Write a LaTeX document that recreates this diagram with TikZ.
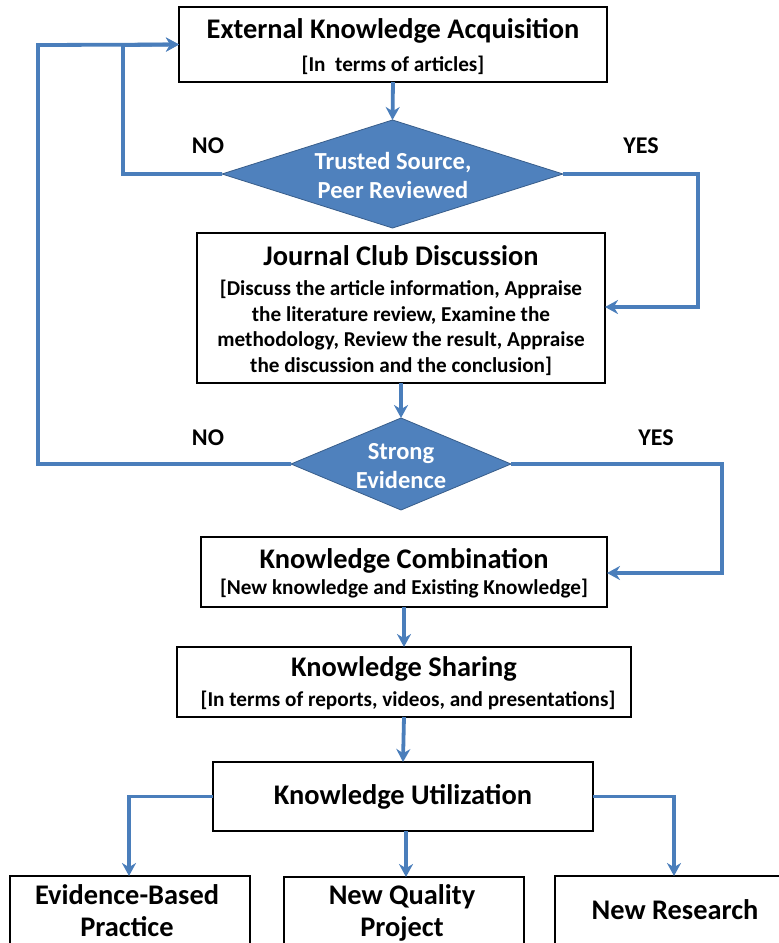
\documentclass[tikz,border=0pt]{standalone}
\usepackage{fontspec}
\setmainfont{Carlito}
\usetikzlibrary{shapes.geometric,arrows.meta}
\definecolor{lnblue}{RGB}{74,126,187}
\definecolor{dmblue}{RGB}{79,129,189}
\definecolor{dmedge}{RGB}{56,93,138}
\tikzset{
  box/.style={draw=black,line width=1.8pt,fill=white,inner sep=0pt,outer sep=0pt,rectangle},
  dmd/.style={diamond,fill=dmblue,draw=dmedge,line width=0.8pt,inner sep=0pt,outer sep=0pt},
  conn/.style={draw=lnblue,line width=3.8pt,-{Stealth[length=13pt,width=14pt]}},
  lbl/.style={font=\fontsize{24}{28}\selectfont\bfseries},
  dtext/.style={text=white,font=\fontsize{24.5}{29}\selectfont\bfseries,align=center},
  ttl/.style={font=\fontsize{28.4}{32}\selectfont\bfseries},
  sub/.style={font=\fontsize{21.2}{25.5}\selectfont\bfseries,align=center},
}
\begin{document}
\begin{tikzpicture}[x=1pt,y=-1pt]
\useasboundingbox (0,0) rectangle (779,943);
\clip (0,0) rectangle (779,943);
% boxes
\node[box,minimum width=428pt,minimum height=75pt] (b1) at (393,44.5) {};
\node[ttl] (t1) at (393,31) {External Knowledge Acquisition};
\node[sub] (s1) at (393,65) {[In\ \ terms of articles]};
% diamond 1
\node[dmd,minimum width=341pt,minimum height=108pt] (d1) at (392.5,174) {};
\node[dtext] (d1t) at (393,175) {Trusted Source,\\Peer Reviewed};
% box 2
\node[box,minimum width=408pt,minimum height=150pt] (b2) at (401,308) {};
\node[ttl] (t2) at (401,256) {Journal Club Discussion};
\node[sub] (s2) at (401,328) {[Discuss the article information, Appraise\\the literature review, Examine the\\methodology, Review the result, Appraise\\the discussion and the conclusion]};
% diamond 2
\node[dmd,minimum width=220pt,minimum height=92pt] (d2) at (401,464) {};
\node[dtext] (d2t) at (401,466) {Strong\\Evidence};
% box 3
\node[box,minimum width=406pt,minimum height=70pt] (b3) at (404,572) {};
\node[ttl] (t3) at (404,561) {Knowledge Combination};
\node[sub] (s3) at (404,589) {[New knowledge and Existing Knowledge]};
% box 4
\node[box,minimum width=454pt,minimum height=70pt] (b4) at (404,682) {};
\node[ttl] (t4) at (404,669) {Knowledge Sharing};
\node[sub] (s4) at (408,700) {[In terms of reports, videos, and presentations]};
% box 5
\node[box,minimum width=380pt,minimum height=69pt] (b5) at (403,796.5) {};
\node[ttl] (t5) at (403,797) {Knowledge Utilization};
% bottom boxes
\node[box,minimum width=240pt,minimum height=84pt] (b6) at (130,918) {};
\node[ttl,align=center] (t6) at (127,911) {Evidence-Based\\Practice};
\node[box,minimum width=240pt,minimum height=84pt] (b7) at (404,919) {};
\node[ttl,align=center] (t7) at (402,913) {New Quality\\Project};
\node[box,minimum width=245pt,minimum height=84pt] (b8) at (677.5,918) {};
\node[ttl] (t8) at (675,910) {New Research};
% labels
\node[lbl] (no1) at (208,146) {NO};
\node[lbl] (yes1) at (641,146) {YES};
\node[lbl] (no2) at (208,438) {NO};
\node[lbl] (yes2) at (656,438) {YES};
% connectors
\draw[conn] (b1.south) -- (d1.north);
\draw[conn] (d1.west) -- (123,174) -- (123,45) -- (b1.west);
\draw[conn] (d2.west) -- (38,464) -- (38,45) -- (b1.west);
\draw[conn] (d1.east) -- (698,174) -- (698,307) -- (b2.east |- 0,307);
\draw[conn] (b2.south) -- (d2.north);
\draw[conn] (d2.east) -- (722,464) -- (722,573) -- (b3.east |- 0,573);
\draw[conn] (b3.south) -- (b4.north);
\draw[conn] (b4.south) -- (b5.north);
\draw[conn] (b5.west) -- (129,796.5) -- (b6.north -| 129,0);
\draw[conn] (b5.south -| 406,0) -- (b7.north -| 406,0);
\draw[conn] (b5.east) -- (674,796.5) -- (b8.north -| 674,0);
\end{tikzpicture}
\end{document}
